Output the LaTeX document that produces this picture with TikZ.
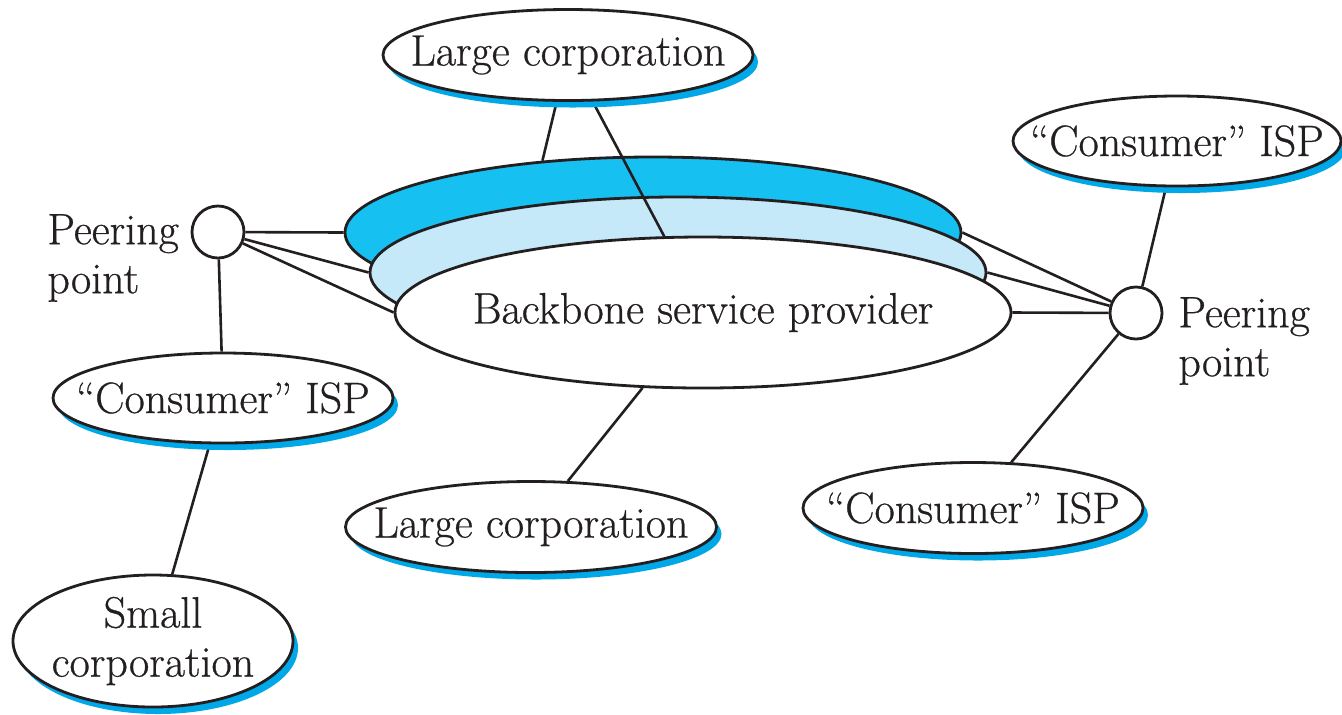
\documentclass[tikz,border=0pt]{standalone}
\usepackage{fontspec}
\setmainfont{Latin Modern Roman}[RawFeature={embolden=0.6}]
\usetikzlibrary{shapes.geometric,shadows,backgrounds}
\definecolor{bbdarkblue}{RGB}{22,193,241}
\definecolor{bblightblue}{RGB}{197,233,248}
\definecolor{shadowblue}{RGB}{0,168,232}
\definecolor{inkgray}{RGB}{35,31,32}
\begin{document}
\begin{tikzpicture}[
    x=0.5pt, y=-0.5pt,
    font=\fontsize{22}{24.5}\selectfont, text=inkgray,
    site/.style={ellipse, draw=inkgray, line width=1.4pt, fill=white, inner sep=0pt,
        drop shadow={shadow xshift=2.5pt, shadow yshift=-3.5pt, fill=shadowblue, opacity=1}},
    ring/.style={ellipse, draw=inkgray, line width=1.4pt, inner sep=0pt,
        minimum width=308pt, minimum height=75.5pt},
    peer/.style={circle, draw=inkgray, line width=1.4pt, fill=white, minimum size=26pt, inner sep=0pt},
    link/.style={draw=inkgray, line width=1.3pt}
]
    \useasboundingbox (0,0) rectangle (1342,714);

    \node[site, minimum width=185pt, minimum height=45.5pt, label=center:Large corporation] (lc1) at (568,55) {};
    \node[site, minimum width=164pt, minimum height=45pt, label=center:“Consumer” ISP] (ctr) at (1177,141) {};
    \node[site, minimum width=170pt, minimum height=45pt, label=center:“Consumer” ISP] (cl) at (223,398) {};
    \node[site, minimum width=140pt, minimum height=66pt, label={[align=center]center:Small\\corporation}] (sc) at (153,641) {};
    \node[site, minimum width=185.5pt, minimum height=45.5pt, label=center:Large corporation] (lc2) at (531,527) {};
    \node[site, minimum width=170pt, minimum height=45.5pt, label=center:“Consumer” ISP] (crb) at (973,508) {};

    \node[peer] (pl) at (218,232) {};
    \node[peer] (pr) at (1136,313) {};
    \node[anchor=west, align=left, inner sep=0pt] (plt) at (47,258) {Peering\\point};
    \node[anchor=west, align=left, inner sep=0pt] (prt) at (1178,341) {Peering\\point};

    \begin{pgfonlayer}{background}
        \node[ring, fill=bbdarkblue] (bbdark) at (653,232.5) {};
        \node[ring, fill=bblightblue] (bblight) at (678,272.5) {};
        \node[ring, fill=white, label=center:Backbone service provider] (bb) at (703,312.5) {};

        \draw[link] (lc1) -- (bbdark.147);
        \draw[link] (lc1) -- (bb.117);
        \draw[link] (pl) -- (bbdark.west);
        \draw[link] (pl) -- (bblight.west);
        \draw[link] (pl) -- (bb.west);
        \draw[link] (pr) -- (bbdark.east);
        \draw[link] (pr) -- (bblight.east);
        \draw[link] (pr) -- (bb.east);
        \draw[link] (pl) -- (cl);
        \draw[link] (cl) -- (sc);
        \draw[link] (bb) -- (lc2);
        \draw[link] (pr) -- (ctr);
        \draw[link] (pr) -- (crb);
    \end{pgfonlayer}
\end{tikzpicture}
\end{document}
